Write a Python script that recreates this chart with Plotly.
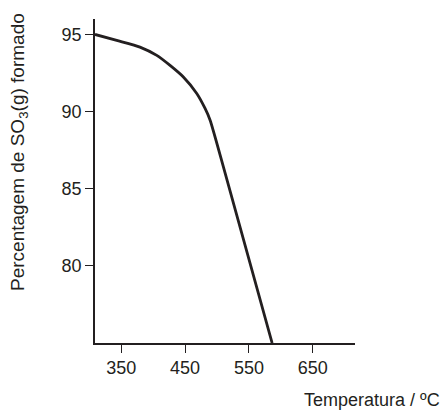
import plotly.graph_objects as go

temperatura = [309, 343, 379.4, 405.7, 426.5, 447.3, 468.3, 481.3, 489.2, 510, 586.3]
percentagem = [95.0, 94.61, 94.18, 93.64, 92.99, 92.24, 91.17, 90.2, 89.44, 86.42, 75.0]
x_ticks = [350, 450, 550, 650]
y_ticks = [80, 85, 90, 95]

ink = "#231f20"
font = dict(family="Liberation Sans, Arial, sans-serif", size=18, color=ink)
title_font = dict(family="Liberation Sans, Arial, sans-serif", size=19, color=ink)

fig = go.Figure()
fig.add_trace(go.Scatter(x=temperatura, y=percentagem, mode="lines",
                         line=dict(color=ink, width=2.8, shape="spline", smoothing=0.6),
                         hoverinfo="skip", showlegend=False))

fig.update_layout(
    width=446, height=410,
    margin=dict(l=95, r=91, t=19, b=67),
    paper_bgcolor="white", plot_bgcolor="white",
    font=font,
    xaxis=dict(range=[309, 716], tickvals=x_ticks, ticks="outside", ticklen=8,
               tickcolor=ink, tickwidth=1.3, showline=True, linecolor=ink, linewidth=1.5,
               showgrid=False, zeroline=False, tickfont=font),
    yaxis=dict(range=[75.0, 96.0], tickvals=y_ticks, ticks="outside", ticklen=8,
               tickcolor=ink, tickwidth=1.3, showline=True, linecolor=ink, linewidth=1.5,
               showgrid=False, zeroline=False, tickfont=font),
    annotations=[
        dict(text="Percentagem de SO<sub>3</sub>(g) formado", textangle=-90,
             xref="paper", yref="paper", x=-0.2923, y=0.5895,
             xanchor="center", yanchor="middle", showarrow=False, font=title_font),
        dict(text="Temperatura / ºC", xref="paper", yref="paper",
             x=1.3346, y=-0.176, xanchor="right", yanchor="middle",
             showarrow=False, font=font),
    ],
)

fig.write_html("out.html", config={"displayModeBar": False},
               post_script="document.body.style.margin='0';document.body.style.overflow='hidden';")
